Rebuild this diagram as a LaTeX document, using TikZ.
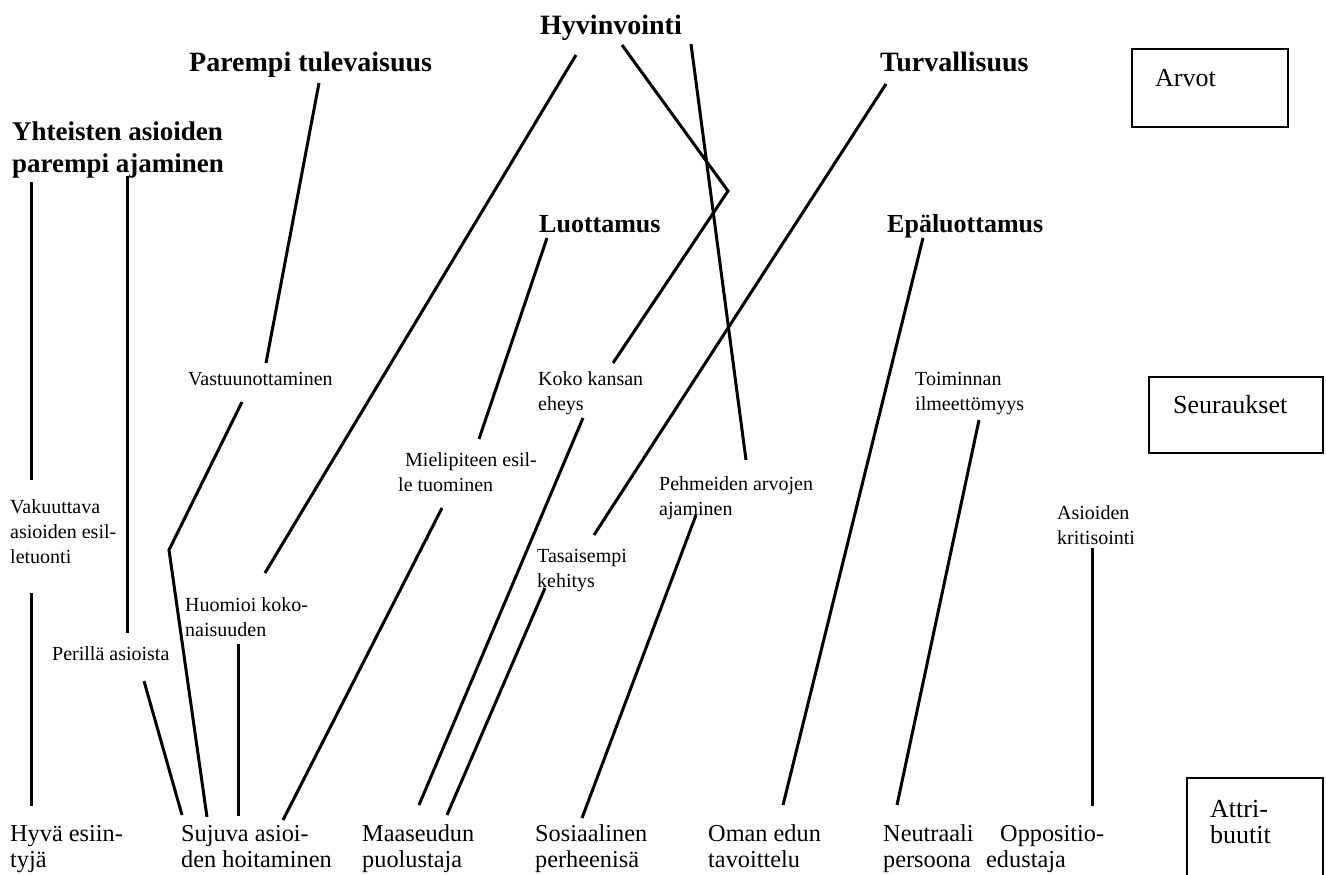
\documentclass[tikz,border=0pt]{standalone}
\usepackage{fontspec}
\setmainfont{Liberation Serif}
\newcommand{\tsTitle}{\fontsize{28}{32}\selectfont\bfseries}
\newcommand{\tsYht}{\fontsize{27}{32}\selectfont\bfseries}
\newcommand{\tsTitleS}{\fontsize{26}{30}\selectfont\bfseries}
\newcommand{\tsMid}{\fontsize{20}{25}\selectfont}
\newcommand{\tsBot}{\fontsize{24.3}{26}\selectfont}
\newcommand{\tsBox}{\fontsize{26}{26}\selectfont}
\begin{document}
\begin{tikzpicture}[x=1pt,y=-1pt,
  lab/.style={inner sep=0pt,anchor=base west,align=left},
  conn/.style={line width=3pt},
  boxr/.style={line width=2.8pt}]
\useasboundingbox (0,0) rectangle (1326,875);
% ---- values (Arvot)  (base = baseline of last line)
\node[lab,font=\tsTitle] (hyv) at (540,35) {Hyvinvointi};
\node[lab,font=\tsTitle] (par) at (189,72) {Parempi tulevaisuus};
\node[lab,font=\tsYht] (yht) at (12,172) {Yhteisten asioiden\\parempi ajaminen};
\node[lab,font=\tsTitle] (tur) at (880,72) {Turvallisuus};
\node[lab,font=\tsTitleS] (luo) at (539,232) {Luottamus};
\node[lab,font=\tsTitleS] (epa) at (887,232) {Epäluottamus};
% ---- consequences (Seuraukset)
\node[lab,font=\tsMid] (vas) at (188,385) {Vastuunottaminen};
\node[lab,font=\tsMid] (kok) at (538,410) {Koko kansan\\eheys};
\node[lab,font=\tsMid] (toi) at (915,410) {Toiminnan\\ilmeettömyys};
\node[lab,font=\tsMid] (mie) at (398,491) {\hspace*{7pt}Mielipiteen esil-\\le tuominen};
\node[lab,font=\tsMid] (peh) at (659,515) {Pehmeiden arvojen\\ajaminen};
\node[lab,font=\tsMid] (vak) at (10,563) {Vakuuttava\\asioiden esil-\\letuonti};
\node[lab,font=\tsMid] (tas) at (537,587) {Tasaisempi\\kehitys};
\node[lab,font=\tsMid] (asi) at (1057,544) {Asioiden\\kritisointi};
\node[lab,font=\tsMid] (huo) at (185,636) {Huomioi koko-\\naisuuden};
\node[lab,font=\tsMid] (per) at (52,660) {Perillä asioista};
% ---- attributes (Attribuutit)
\node[lab,font=\tsBot] (hyva) at (10,867) {Hyvä esiin-\\tyjä};
\node[lab,font=\tsBot] (suj) at (181,867) {Sujuva asioi-\\den hoitaminen};
\node[lab,font=\tsBot] (maa) at (362,867) {Maaseudun\\puolustaja};
\node[lab,font=\tsBot] (sos) at (535,867) {Sosiaalinen\\perheenisä};
\node[lab,font=\tsBot] (oma) at (708,867) {Oman edun\\tavoittelu};
\node[lab,font=\tsBot] (neu) at (883,867) {Neutraali\\persoona};
\node[lab,font=\tsBot] (opp) at (986,867) {\hspace*{14pt}Oppositio-\\edustaja};
% ---- level boxes
\draw[boxr] (1132,49) rectangle (1288,127);
\node[lab,font=\tsBox] (arvot) at (1155,87) {Arvot};
\draw[boxr] (1149,377) rectangle (1323,453);
\node[lab,font=\tsBox] (seur) at (1173,413) {Seuraukset};
\draw[boxr] (1187,880) -- (1187,778) -- (1323,778) -- (1323,880);
\node[lab,font=\tsBox] (attr) at (1210,843) {Attri-\\buutit};
% ---- connector end points
\coordinate (yht-a) at (31,182);   \coordinate (vak-a) at (31,480);
\coordinate (yht-b) at (127,176);  \coordinate (per-a) at (127,633);
\coordinate (vak-b) at (31,593);   \coordinate (hyva-a) at (31,806);
\coordinate (par-a) at (319,83);   \coordinate (vas-a) at (266,363);
\coordinate (vas-b) at (242,402);  \coordinate (kink1) at (169,550);  \coordinate (suj-a) at (207,817);
\coordinate (hyv-a) at (576,55);   \coordinate (huo-a) at (265,573);
\coordinate (hyv-b) at (622,45);   \coordinate (kink2) at (728,191);  \coordinate (kok-a) at (613,363);
\coordinate (hyv-c) at (691,44);   \coordinate (peh-a) at (746,460);
\coordinate (tur-a) at (886,84);   \coordinate (tas-a) at (594,535);
\coordinate (luo-a) at (547,238);  \coordinate (mie-a) at (479,439);
\coordinate (epa-a) at (923,238);  \coordinate (oma-a) at (783,805);
\coordinate (toi-a) at (979,420);  \coordinate (neu-a) at (897,805);
\coordinate (asi-a) at (1092,548); \coordinate (opp-a) at (1092,806);
\coordinate (mie-b) at (442,508);  \coordinate (suj-b) at (283,820);
\coordinate (huo-b) at (238,644);  \coordinate (suj-c) at (238,816);
\coordinate (per-b) at (144,681);  \coordinate (suj-d) at (182,815);
\coordinate (kok-b) at (583,418);  \coordinate (maa-a) at (419,805);
\coordinate (tas-b) at (545,588);  \coordinate (maa-b) at (447,815);
\coordinate (peh-b) at (696,515);  \coordinate (sos-a) at (582,818);
% ---- connectors
\draw[conn] (yht-a) -- (vak-a);
\draw[conn] (yht-b) -- (per-a);
\draw[conn] (vak-b) -- (hyva-a);
\draw[conn] (par-a) -- (vas-a);
\draw[conn] (vas-b) -- (kink1) -- (suj-a);
\draw[conn] (hyv-a) -- (huo-a);
\draw[conn] (hyv-b) -- (kink2) -- (kok-a);
\draw[conn] (hyv-c) -- (peh-a);
\draw[conn] (tur-a) -- (tas-a);
\draw[conn] (luo-a) -- (mie-a);
\draw[conn] (epa-a) -- (oma-a);
\draw[conn] (toi-a) -- (neu-a);
\draw[conn] (asi-a) -- (opp-a);
\draw[conn] (mie-b) -- (suj-b);
\draw[conn] (huo-b) -- (suj-c);
\draw[conn] (per-b) -- (suj-d);
\draw[conn] (kok-b) -- (maa-a);
\draw[conn] (tas-b) -- (maa-b);
\draw[conn] (peh-b) -- (sos-a);
\end{tikzpicture}
\end{document}
